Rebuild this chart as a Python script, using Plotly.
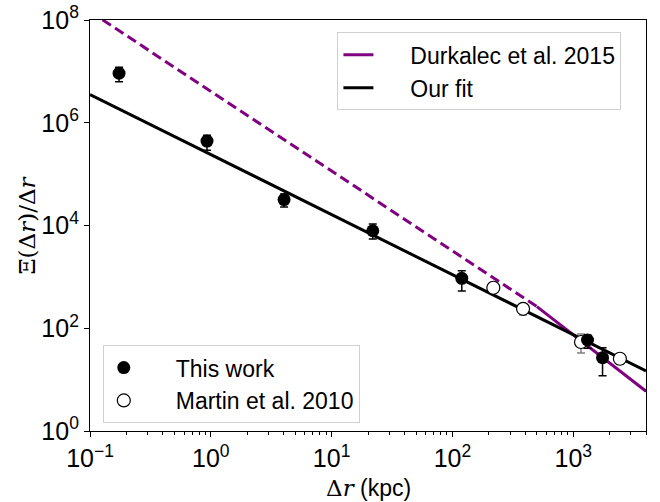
import plotly.graph_objects as go

# ---- data ----
work_x = [0.174, 0.93, 4.04, 21.9, 119.5, 1312, 1747]
work_y = [9.2e6, 4.4e5, 3.2e4, 7900, 935, 59, 26.7]
work_hi = [1.2e7, 5.7e5, 4.1e4, 10650, 1315, 74, 41.8]
work_lo = [6.3e6, 2.9e5, 2.3e4, 5430, 529, 41, 11.9]

martin_x = [218, 384, 1159, 2432]
martin_y = [614, 239, 54, 25.5]
martin_hi = [650, 290, 77, 31]
martin_lo = [580, 181, 33, 20]

fit_x = [0.1, 4000]
fit_y = [3.55e6, 14.8]

durk_dash_x = [0.1, 500]
durk_dash_y = [1.46e8, 264]
durk_solid_x = [500, 4000]
durk_solid_y = [264, 5.95]

y_tickvals = [1, 1e2, 1e4, 1e6, 1e8]
y_ticktext = ["10<sup>0</sup>", "10<sup>2</sup>", "10<sup>4</sup>", "10<sup>6</sup>", "10<sup>8</sup>"]
x_tickvals = [0.1, 1, 10, 100, 1000]
x_ticktext = ["10<sup>−1</sup>", "10<sup>0</sup>", "10<sup>1</sup>", "10<sup>2</sup>", "10<sup>3</sup>"]

PURPLE = "#800080"
FONT = "Liberation Sans, Arial, sans-serif"
SERIF = "DejaVu Serif, serif"
PAD = "\u00a0" * 5

fig = go.Figure()

fig.add_trace(go.Scatter(x=durk_dash_x, y=durk_dash_y, mode="lines",
                         line=dict(color=PURPLE, width=3, dash="10px,5px"),
                         showlegend=False, hoverinfo="skip"))
fig.add_trace(go.Scatter(x=durk_solid_x, y=durk_solid_y, mode="lines",
                         line=dict(color=PURPLE, width=3),
                         name=PAD + "Durkalec et al. 2015", legend="legend"))
fig.add_trace(go.Scatter(x=fit_x, y=fit_y, mode="lines",
                         line=dict(color="black", width=3),
                         name=PAD + "Our fit", legend="legend"))

fig.add_trace(go.Scatter(
    x=martin_x, y=martin_y, mode="markers",
    marker=dict(size=13, color="white", line=dict(color="black", width=1.2)),
    error_y=dict(type="data", symmetric=False,
                 array=[h - v for h, v in zip(martin_hi, martin_y)],
                 arrayminus=[v - l for l, v in zip(martin_lo, martin_y)],
                 color="gray", thickness=1.5, width=4),
    name=PAD + "Martin et al. 2010", legend="legend2"))

fig.add_trace(go.Scatter(
    x=work_x, y=work_y, mode="markers",
    marker=dict(size=13, color="black"),
    error_y=dict(type="data", symmetric=False,
                 array=[h - v for h, v in zip(work_hi, work_y)],
                 arrayminus=[v - l for l, v in zip(work_lo, work_y)],
                 color="black", thickness=1.5, width=4),
    name=PAD + "This work", legend="legend2"))

fig.update_layout(
    width=660, height=502,
    margin=dict(l=90, r=14, t=20, b=71, autoexpand=False),
    paper_bgcolor="white", plot_bgcolor="white",
    font=dict(family=FONT, size=23, color="black"),
    legend=dict(x=0.445, y=0.97, xanchor="left", yanchor="top",
                bordercolor="#d0d0d0", borderwidth=1, bgcolor="rgba(255,255,255,0.8)",
                font=dict(size=23), traceorder="normal"),
    legend2=dict(x=0.023, y=0.209, xanchor="left", yanchor="top",
                 bordercolor="#d0d0d0", borderwidth=1, bgcolor="rgba(255,255,255,0.8)",
                 font=dict(size=23), traceorder="reversed"),
    annotations=[
        dict(text="<span style='font-family:DejaVu Serif'>Δ<i>r</i></span> (kpc)",
             xref="paper", yref="paper", x=0.5, y=-0.138, xanchor="center", yanchor="middle",
             showarrow=False, font=dict(size=23, family=FONT)),
        dict(text="Ξ(Δ<i>r</i>)/Δ<i>r</i>",
             xref="paper", yref="paper", x=-0.115, y=0.5, xanchor="center", yanchor="middle",
             textangle=-90, showarrow=False, font=dict(size=23, family=SERIF)),
    ],
)

fig.update_xaxes(
    type="log", range=[-1, 3.602], automargin=False,
    tickmode="array", tickvals=x_tickvals, ticktext=x_ticktext,
    ticks="outside", ticklen=5, tickwidth=1.2, tickcolor="black",
    minor=dict(ticks="outside", ticklen=3, tickcolor="black", dtick="D1", showgrid=False),
    showline=True, linecolor="black", linewidth=1.2, mirror=True,
    showgrid=False, zeroline=False,
    tickfont=dict(size=25, family=FONT),
)
fig.update_yaxes(
    type="log", range=[0, 8], automargin=False,
    tickmode="array", tickvals=y_tickvals, ticktext=y_ticktext,
    ticks="outside", ticklen=5, tickwidth=1.2, tickcolor="black",
    showline=True, linecolor="black", linewidth=1.2, mirror=True,
    showgrid=False, zeroline=False,
    tickfont=dict(size=25, family=FONT),
)

fig.write_html("out.html", config={"displayModeBar": False},
               post_script="document.body.style.margin='0';document.body.style.overflow='hidden';")
